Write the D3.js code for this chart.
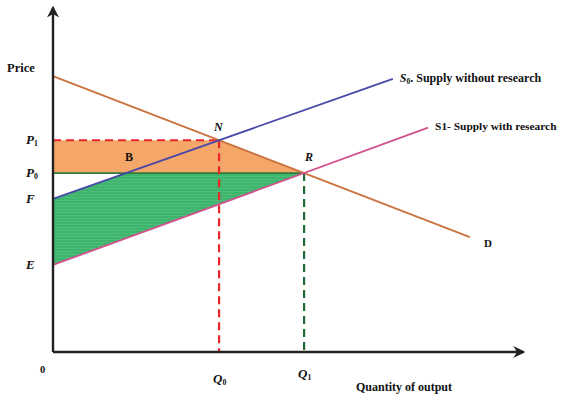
<!DOCTYPE html>
<html>
<head>
<meta charset="utf-8">
<script src="https://cdn.jsdelivr.net/npm/d3@7"></script>
<style>
  body { margin: 0; background: #fff; }
  text { font-family: "Liberation Serif", "Times New Roman", serif; font-weight: bold; fill: #111; }
</style>
</head>
<body>
<div id="chart"></div>
<script>
let w = 561;
let h = 394;

// curves in (quantity, price) units, both 0..100
let demand = [{q: 0, p: 80.2}, {q: 88.7, p: 33.4}];
let supply0 = [{q: 0, p: 44.5}, {q: 72.3, p: 79.4}];
let supply1 = [{q: 0, p: 25.3}, {q: 79.8, p: 65.2}];

let curveLabels = ["D", "S0. Supply without research", "S1- Supply with research"];
let priceLabels = ["P1", "P0", "F", "E"];
let qtyLabels = ["Q0", "Q1"];

let x = d3.scaleLinear().domain([0, 100]).range([53, 523]);
let y = d3.scaleLinear().domain([0, 100]).range([352, 8]);

function cross(a, b) {
  // intersection of two straight lines given by two points each
  let sa = (a[1].p - a[0].p) / (a[1].q - a[0].q);
  let sb = (b[1].p - b[0].p) / (b[1].q - b[0].q);
  let ia = a[0].p - sa * a[0].q;
  let ib = b[0].p - sb * b[0].q;
  let q = (ib - ia) / (sa - sb);
  return {q: q, p: ia + sa * q};
}
function qAt(line, p) {
  let s = (line[1].p - line[0].p) / (line[1].q - line[0].q);
  return line[0].q + (p - line[0].p) / s;
}

let N = cross(demand, supply0);
let R = cross(demand, supply1);
let P1 = N.p, P0 = R.p;

let svg = d3.select("#chart").append("svg")
  .attr("width", w)
  .attr("height", h);

let defs = svg.append("defs");
defs.append("marker")
  .attr("id", "arrow")
  .attr("viewBox", "0 0 10 10")
  .attr("refX", 8).attr("refY", 5)
  .attr("markerWidth", 5).attr("markerHeight", 5)
  .attr("markerUnits", "strokeWidth")
  .attr("orient", "auto")
  .append("path")
    .attr("d", "M0,0 L10,5 L0,10 L3,5 Z")
    .attr("fill", "#222");

let pat = defs.append("pattern")
  .attr("id", "stripes")
  .attr("width", 4).attr("height", 3)
  .attr("patternUnits", "userSpaceOnUse");
pat.append("rect").attr("width", 4).attr("height", 3).attr("fill", "#3db56c");
pat.append("rect").attr("y", 2).attr("width", 4).attr("height", 1).attr("fill", "#4fbd7a");

let line = d3.line().x(d => x(d.q)).y(d => y(d.p));

// orange area between P1 and P0, bounded by demand
let orange = [{q: 0, p: P1}, N, R, {q: 0, p: P0}];
svg.append("path")
  .attr("d", line(orange) + "Z")
  .attr("fill", "#f5a669");

// green area between the two supply curves, below P0
let green = [supply0[0], {q: qAt(supply0, P0), p: P0}, R, supply1[0]];
svg.append("path")
  .attr("d", line(green) + "Z")
  .attr("fill", "url(#stripes)");

// P0 line
svg.append("line")
  .attr("x1", x(0)).attr("x2", x(R.q))
  .attr("y1", y(P0)).attr("y2", y(P0))
  .attr("stroke", "#2f7d3c").attr("stroke-width", 1.8);

// dashed guides
svg.append("line")
  .attr("x1", x(0)).attr("x2", x(N.q))
  .attr("y1", y(P1)).attr("y2", y(P1))
  .attr("stroke", "#e8262a").attr("stroke-width", 2.2)
  .attr("stroke-dasharray", "8,5");
svg.append("line")
  .attr("x1", x(N.q)).attr("x2", x(N.q))
  .attr("y1", y(P1)).attr("y2", y(0))
  .attr("stroke", "#e8262a").attr("stroke-width", 2.2)
  .attr("stroke-dasharray", "8,5");
svg.append("line")
  .attr("x1", x(R.q)).attr("x2", x(R.q))
  .attr("y1", y(P0)).attr("y2", y(0))
  .attr("stroke", "#1f6a35").attr("stroke-width", 2.2)
  .attr("stroke-dasharray", "8,5");

// curves
svg.append("path").attr("d", line(demand))
  .attr("fill", "none").attr("stroke", "#c9733f").attr("stroke-width", 1.8);
svg.append("path").attr("d", line(supply0))
  .attr("fill", "none").attr("stroke", "#4848a8").attr("stroke-width", 1.8);
svg.append("path").attr("d", line(supply1))
  .attr("fill", "none").attr("stroke", "#d2508e").attr("stroke-width", 1.8);

// axes
svg.append("line")
  .attr("x1", x(0)).attr("y1", y(0))
  .attr("x2", x(0)).attr("y2", y(100))
  .attr("stroke", "#222").attr("stroke-width", 2.4)
  .attr("marker-end", "url(#arrow)");
svg.append("line")
  .attr("x1", x(0)).attr("y1", y(0))
  .attr("x2", x(100)).attr("y2", y(0))
  .attr("stroke", "#222").attr("stroke-width", 2.4)
  .attr("marker-end", "url(#arrow)");

// labels with subscripts
function subLabel(px, py, label, size) {
  let t = svg.append("text")
    .attr("x", px).attr("y", py)
    .style("font-size", size + "px");
  t.append("tspan").style("font-style", "italic").text(label[0]);
  if (label.length > 1) {
    t.append("tspan")
      .attr("dy", 2)
      .style("font-size", (size * 0.6) + "px")
      .text(label.slice(1));
  }
  return t;
}

let priceVals = [P1, P0, supply0[0].p, supply1[0].p];
priceLabels.forEach((lab, i) => {
  subLabel(26, y(priceVals[i]) + 4, lab, 13);
});

let qtyVals = [N.q, R.q];
let qtyY = [383, 378];
qtyLabels.forEach((lab, i) => {
  subLabel(x(qtyVals[i]) - 6, qtyY[i], lab, 13);
});

svg.append("text").attr("x", 7).attr("y", 72)
  .style("font-size", "12.5px").text("Price");
svg.append("text").attr("x", 40).attr("y", 373)
  .style("font-size", "10.5px").text("0");
svg.append("text").attr("x", 356).attr("y", 391)
  .style("font-size", "12px").text("Quantity of output");

subLabel(x(N.q) - 5, y(N.p) - 9, "N", 12);
subLabel(x(R.q) + 1, y(R.p) - 12, "R", 12);
svg.append("text").attr("x", 125).attr("y", 161)
  .style("font-size", "12px").text("B");

// curve end labels
svg.append("text")
  .attr("x", x(demand[1].q) + 14).attr("y", y(demand[1].p) + 10)
  .style("font-size", "11px").text(curveLabels[0]);

let s0 = svg.append("text")
  .attr("x", x(supply0[1].q) + 7).attr("y", y(supply0[1].p) + 3)
  .style("font-size", "12px");
s0.append("tspan").style("font-style", "italic").text("S");
s0.append("tspan").attr("dy", 2).style("font-size", "7.5px").text("0");
s0.append("tspan").attr("dy", -2).text(curveLabels[1].slice(2));

svg.append("text")
  .attr("x", x(supply1[1].q) + 7).attr("y", y(supply1[1].p) + 2)
  .style("font-size", "11.4px").text(curveLabels[2]);
</script>
</body>
</html>
